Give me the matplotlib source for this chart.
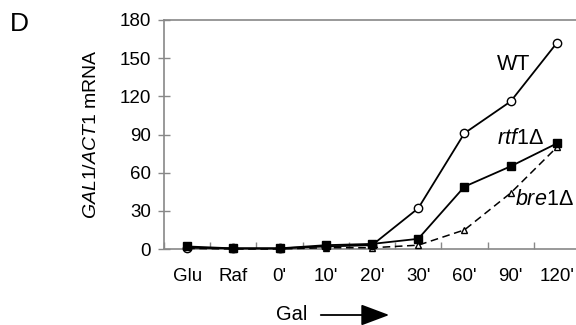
import matplotlib
matplotlib.use("Agg")
import matplotlib.pyplot as plt
import numpy as np

categories = ["Glu", "Raf", "0'", "10'", "20'", "30'", "60'", "90'", "120'"]
wt = [1, 0.5, 0.5, 2, 3, 32, 91, 116, 162]
rtf1 = [2, 0.5, 0.5, 3, 4, 8, 49, 65, 83]
bre1 = [0.5, 0, 0, 1, 1, 3, 15, 44, 80]
yticks = [0, 30, 60, 90, 120, 150, 180]

plt.rcParams['font.family'] = ['Liberation Sans', 'DejaVu Sans']
plt.rcParams['mathtext.fontset'] = 'custom'
plt.rcParams['mathtext.it'] = 'Liberation Sans:italic'
plt.rcParams['mathtext.rm'] = 'Liberation Sans'

fig = plt.figure(figsize=(5.76, 3.25), dpi=100)
W, H = 576, 325
ax = fig.add_axes([164 / W, (325 - 249) / H, 416 / W, 229 / H])
x = np.arange(len(categories))

ax.plot(x, wt, '-', color='black', lw=1.3, marker='o', ms=6, mfc='white', mec='black', mew=1, clip_on=False, zorder=4)
ax.plot(x, rtf1, '-', color='black', lw=1.3, marker='s', ms=6, mfc='black', mec='black', clip_on=False, zorder=5)
ax.plot(x, bre1, '--', color='black', lw=1.1, dashes=(5, 3), marker='^', ms=5, mfc='white', mec='black', mew=1, clip_on=False, zorder=3)

ax.set_xlim(-0.5, 8.5)
ax.set_ylim(0, 180)
ax.set_yticks(yticks)
ax.set_yticklabels([str(v) for v in yticks], fontsize=13.5)
ax.set_xticks(x)
ax.set_xticklabels(categories, fontsize=13.5)
ax.set_xticks(np.arange(-0.5, 8.6, 1), minor=True)
ax.tick_params(axis='x', which='major', length=0, pad=14)
ax.tick_params(axis='x', which='minor', direction='in', length=5, color='#888888', width=1)
ax.tick_params(axis='y', direction='inout', length=9, color='#888888', width=1, pad=5)

for s in ['left', 'bottom', 'top']:
    ax.spines[s].set_color('#888888')
    ax.spines[s].set_linewidth(1.2)
ax.spines['right'].set_visible(False)

ax.set_ylabel(r'$\mathit{GAL1/ACT1}$ mRNA', fontsize=14, labelpad=14)

ax.text(7.06, 145, 'WT', fontsize=15.5, ha='center', va='center')
ax.text(7.22, 87, r'$\mathit{rtf1}$Δ', fontsize=15.5, ha='center', va='center')
ax.text(7.74, 39, r'$\mathit{bre1}$Δ', fontsize=15.5, ha='center', va='center')

fig.text(10 / W, 1 - 24 / H, 'D', fontsize=19, ha='left', va='center')
fig.text(292 / W, 1 - 315 / H, 'Gal', fontsize=14.5, ha='center', va='center')
fig.add_artist(matplotlib.patches.FancyArrowPatch((318 / W, 1 - 315 / H), (392 / W, 1 - 315 / H),
                                                  transform=fig.transFigure, arrowstyle='-|>,head_length=0.8,head_width=0.3',
                                                  mutation_scale=22, color='black', lw=1.3))

fig.savefig('out.png', dpi=100)
